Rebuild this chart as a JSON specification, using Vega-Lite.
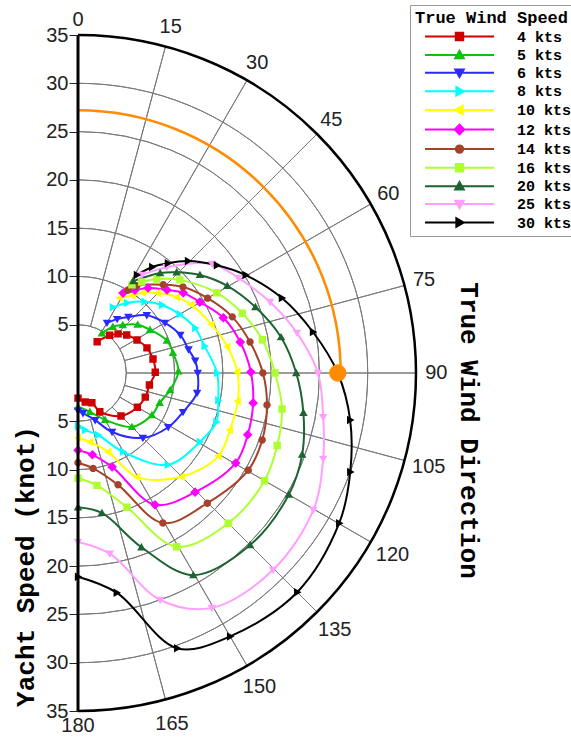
{
  "$schema": "https://vega.github.io/schema/vega-lite/v6.json",
  "width": 338,
  "height": 676,
  "autosize": {"type": "none"},
  "padding": {"left": 78, "top": 35, "right": 155, "bottom": 27},
  "background": "white",
  "config": {"view": {"stroke": null}},
  "datasets": {
    "circles": [{"r": 5}, {"r": 10}, {"r": 15}, {"r": 20}, {"r": 25}, {"r": 30}],
    "spokes": [{"a": 15}, {"a": 30}, {"a": 45}, {"a": 60}, {"a": 75}, {"a": 90}, {"a": 105}, {"a": 120}, {"a": 135}, {"a": 150}, {"a": 165}],
    "angleLabels": [{"a": 0}, {"a": 15}, {"a": 30}, {"a": 45}, {"a": 60}, {"a": 75}, {"a": 90}, {"a": 105}, {"a": 120}, {"a": 135}, {"a": 150}, {"a": 165}, {"a": 180}],
    "maxPoint": [{"angle": 90, "speed": 26.9}],
    "curves": [
      {"tws": "4 kts", "angle": 31.5, "speed": 3.8}, {"tws": "4 kts", "angle": 40, "speed": 5.1}, {"tws": "4 kts", "angle": 45.7, "speed": 5.8}, {"tws": "4 kts", "angle": 52, "speed": 6.4}, {"tws": "4 kts", "angle": 60.8, "speed": 7.0}, {"tws": "4 kts", "angle": 70, "speed": 7.6}, {"tws": "4 kts", "angle": 79.4, "speed": 7.9}, {"tws": "4 kts", "angle": 89.5, "speed": 8.0}, {"tws": "4 kts", "angle": 99.6, "speed": 7.5}, {"tws": "4 kts", "angle": 109.7, "speed": 7.4}, {"tws": "4 kts", "angle": 120, "speed": 7.1}, {"tws": "4 kts", "angle": 135, "speed": 6.3}, {"tws": "4 kts", "angle": 150.6, "speed": 4.6}, {"tws": "4 kts", "angle": 155, "speed": 3.4}, {"tws": "4 kts", "angle": 166, "speed": 3.1}, {"tws": "4 kts", "angle": 180, "speed": 2.6},
      {"tws": "5 kts", "angle": 31, "speed": 4.8}, {"tws": "5 kts", "angle": 37, "speed": 6.0}, {"tws": "5 kts", "angle": 43, "speed": 6.8}, {"tws": "5 kts", "angle": 51, "speed": 7.95}, {"tws": "5 kts", "angle": 59, "speed": 8.7}, {"tws": "5 kts", "angle": 70, "speed": 9.8}, {"tws": "5 kts", "angle": 78, "speed": 10.05}, {"tws": "5 kts", "angle": 89, "speed": 10.4}, {"tws": "5 kts", "angle": 100.5, "speed": 9.7}, {"tws": "5 kts", "angle": 110, "speed": 9.0}, {"tws": "5 kts", "angle": 119.6, "speed": 8.8}, {"tws": "5 kts", "angle": 135, "speed": 7.9}, {"tws": "5 kts", "angle": 150, "speed": 5.6}, {"tws": "5 kts", "angle": 163, "speed": 4.2}, {"tws": "5 kts", "angle": 180, "speed": 3.5},
      {"tws": "6 kts", "angle": 30, "speed": 6.0}, {"tws": "6 kts", "angle": 36, "speed": 6.9}, {"tws": "6 kts", "angle": 42, "speed": 7.8}, {"tws": "6 kts", "angle": 50, "speed": 9.3}, {"tws": "6 kts", "angle": 60, "speed": 10.4}, {"tws": "6 kts", "angle": 69.6, "speed": 11.3}, {"tws": "6 kts", "angle": 78, "speed": 11.7}, {"tws": "6 kts", "angle": 84, "speed": 12.2}, {"tws": "6 kts", "angle": 90, "speed": 12.4}, {"tws": "6 kts", "angle": 99.5, "speed": 12.5}, {"tws": "6 kts", "angle": 110.4, "speed": 11.6}, {"tws": "6 kts", "angle": 121, "speed": 10.9}, {"tws": "6 kts", "angle": 135, "speed": 9.5}, {"tws": "6 kts", "angle": 150, "speed": 7.05}, {"tws": "6 kts", "angle": 160, "speed": 5.2}, {"tws": "6 kts", "angle": 173, "speed": 4.2}, {"tws": "6 kts", "angle": 180, "speed": 3.9},
      {"tws": "8 kts", "angle": 28, "speed": 7.7}, {"tws": "8 kts", "angle": 35, "speed": 8.85}, {"tws": "8 kts", "angle": 43, "speed": 10.1}, {"tws": "8 kts", "angle": 51, "speed": 11.2}, {"tws": "8 kts", "angle": 60, "speed": 12.15}, {"tws": "8 kts", "angle": 69, "speed": 13.0}, {"tws": "8 kts", "angle": 78, "speed": 13.4}, {"tws": "8 kts", "angle": 90, "speed": 14.4}, {"tws": "8 kts", "angle": 101, "speed": 14.8}, {"tws": "8 kts", "angle": 109.5, "speed": 15.2}, {"tws": "8 kts", "angle": 119.5, "speed": 14.5}, {"tws": "8 kts", "angle": 135.6, "speed": 13.3}, {"tws": "8 kts", "angle": 150.3, "speed": 9.4}, {"tws": "8 kts", "angle": 162, "speed": 6.75}, {"tws": "8 kts", "angle": 173, "speed": 5.95}, {"tws": "8 kts", "angle": 180, "speed": 5.5},
      {"tws": "10 kts", "angle": 29, "speed": 8.9}, {"tws": "10 kts", "angle": 35, "speed": 9.8}, {"tws": "10 kts", "angle": 39, "speed": 10.7}, {"tws": "10 kts", "angle": 45, "speed": 11.7}, {"tws": "10 kts", "angle": 52.5, "speed": 12.9}, {"tws": "10 kts", "angle": 59, "speed": 13.7}, {"tws": "10 kts", "angle": 70, "speed": 14.7}, {"tws": "10 kts", "angle": 80, "speed": 15.7}, {"tws": "10 kts", "angle": 89.6, "speed": 16.5}, {"tws": "10 kts", "angle": 100, "speed": 16.8}, {"tws": "10 kts", "angle": 110.6, "speed": 16.8}, {"tws": "10 kts", "angle": 120.6, "speed": 16.9}, {"tws": "10 kts", "angle": 135, "speed": 15.2}, {"tws": "10 kts", "angle": 150.4, "speed": 12.4}, {"tws": "10 kts", "angle": 159, "speed": 8.75}, {"tws": "10 kts", "angle": 170, "speed": 7.25}, {"tws": "10 kts", "angle": 180, "speed": 6.7},
      {"tws": "12 kts", "angle": 29.4, "speed": 9.5}, {"tws": "12 kts", "angle": 34.5, "speed": 10.4}, {"tws": "12 kts", "angle": 39.5, "speed": 11.4}, {"tws": "12 kts", "angle": 47, "speed": 12.6}, {"tws": "12 kts", "angle": 52.7, "speed": 13.7}, {"tws": "12 kts", "angle": 59.8, "speed": 14.6}, {"tws": "12 kts", "angle": 69.2, "speed": 16.1}, {"tws": "12 kts", "angle": 79.2, "speed": 17.1}, {"tws": "12 kts", "angle": 89.7, "speed": 17.9}, {"tws": "12 kts", "angle": 99.7, "speed": 18.4}, {"tws": "12 kts", "angle": 110, "speed": 18.7}, {"tws": "12 kts", "angle": 119.7, "speed": 18.8}, {"tws": "12 kts", "angle": 135.5, "speed": 17.3}, {"tws": "12 kts", "angle": 149.7, "speed": 15.8}, {"tws": "12 kts", "angle": 160, "speed": 10.35}, {"tws": "12 kts", "angle": 170, "speed": 8.6}, {"tws": "12 kts", "angle": 180, "speed": 8.0},
      {"tws": "14 kts", "angle": 31, "speed": 10.0}, {"tws": "14 kts", "angle": 34, "speed": 10.9}, {"tws": "14 kts", "angle": 44, "speed": 12.7}, {"tws": "14 kts", "angle": 50.7, "speed": 14.05}, {"tws": "14 kts", "angle": 60, "speed": 15.5}, {"tws": "14 kts", "angle": 70, "speed": 17.0}, {"tws": "14 kts", "angle": 79.8, "speed": 18.1}, {"tws": "14 kts", "angle": 90, "speed": 19.15}, {"tws": "14 kts", "angle": 99.6, "speed": 19.85}, {"tws": "14 kts", "angle": 110, "speed": 20.3}, {"tws": "14 kts", "angle": 119.7, "speed": 20.3}, {"tws": "14 kts", "angle": 135.2, "speed": 19.0}, {"tws": "14 kts", "angle": 150.5, "speed": 17.85}, {"tws": "14 kts", "angle": 160.3, "speed": 12.3}, {"tws": "14 kts", "angle": 171, "speed": 10.0}, {"tws": "14 kts", "angle": 180, "speed": 9.3},
      {"tws": "16 kts", "angle": 31.5, "speed": 10.7}, {"tws": "16 kts", "angle": 35, "speed": 11.5}, {"tws": "16 kts", "angle": 40, "speed": 12.7}, {"tws": "16 kts", "angle": 47.6, "speed": 14.3}, {"tws": "16 kts", "angle": 60, "speed": 16.6}, {"tws": "16 kts", "angle": 70, "speed": 18.1}, {"tws": "16 kts", "angle": 79.8, "speed": 19.4}, {"tws": "16 kts", "angle": 90, "speed": 20.4}, {"tws": "16 kts", "angle": 100, "speed": 21.45}, {"tws": "16 kts", "angle": 110, "speed": 21.95}, {"tws": "16 kts", "angle": 120, "speed": 22.3}, {"tws": "16 kts", "angle": 135, "speed": 22.0}, {"tws": "16 kts", "angle": 150.4, "speed": 20.7}, {"tws": "16 kts", "angle": 160, "speed": 14.8}, {"tws": "16 kts", "angle": 170.4, "speed": 11.8}, {"tws": "16 kts", "angle": 180, "speed": 10.9},
      {"tws": "20 kts", "angle": 31, "speed": 11.1}, {"tws": "20 kts", "angle": 39.4, "speed": 13.4}, {"tws": "20 kts", "angle": 44.4, "speed": 14.6}, {"tws": "20 kts", "angle": 51.2, "speed": 16.2}, {"tws": "20 kts", "angle": 59.7, "speed": 17.9}, {"tws": "20 kts", "angle": 69.6, "speed": 19.6}, {"tws": "20 kts", "angle": 80, "speed": 21.35}, {"tws": "20 kts", "angle": 90, "speed": 22.6}, {"tws": "20 kts", "angle": 100, "speed": 23.7}, {"tws": "20 kts", "angle": 110, "speed": 24.7}, {"tws": "20 kts", "angle": 120, "speed": 25.2}, {"tws": "20 kts", "angle": 135, "speed": 25.2}, {"tws": "20 kts", "angle": 150.3, "speed": 24.1}, {"tws": "20 kts", "angle": 160, "speed": 19.2}, {"tws": "20 kts", "angle": 170.3, "speed": 14.7}, {"tws": "20 kts", "angle": 180, "speed": 13.9},
      {"tws": "25 kts", "angle": 33, "speed": 12.1}, {"tws": "25 kts", "angle": 40, "speed": 14.3}, {"tws": "25 kts", "angle": 50.9, "speed": 17.9}, {"tws": "25 kts", "angle": 59.3, "speed": 19.3}, {"tws": "25 kts", "angle": 69.7, "speed": 21.2}, {"tws": "25 kts", "angle": 79.6, "speed": 23.05}, {"tws": "25 kts", "angle": 90, "speed": 24.85}, {"tws": "25 kts", "angle": 100.2, "speed": 25.8}, {"tws": "25 kts", "angle": 109.3, "speed": 26.9}, {"tws": "25 kts", "angle": 120.2, "speed": 28.2}, {"tws": "25 kts", "angle": 135.3, "speed": 28.7}, {"tws": "25 kts", "angle": 150.3, "speed": 28.0}, {"tws": "25 kts", "angle": 160.1, "speed": 25.0}, {"tws": "25 kts", "angle": 170, "speed": 19.0}, {"tws": "25 kts", "angle": 180, "speed": 17.5},
      {"tws": "30 kts", "angle": 31, "speed": 11.85}, {"tws": "30 kts", "angle": 35, "speed": 13.4}, {"tws": "30 kts", "angle": 39.3, "speed": 14.7}, {"tws": "30 kts", "angle": 44.5, "speed": 16.25}, {"tws": "30 kts", "angle": 52.2, "speed": 18.2}, {"tws": "30 kts", "angle": 59.7, "speed": 20.1}, {"tws": "30 kts", "angle": 69.8, "speed": 22.5}, {"tws": "30 kts", "angle": 80.1, "speed": 24.7}, {"tws": "30 kts", "angle": 90, "speed": 26.9}, {"tws": "30 kts", "angle": 99.8, "speed": 28.6}, {"tws": "30 kts", "angle": 110, "speed": 30.0}, {"tws": "30 kts", "angle": 119.9, "speed": 31.2}, {"tws": "30 kts", "angle": 135, "speed": 32.1}, {"tws": "30 kts", "angle": 150, "speed": 31.5}, {"tws": "30 kts", "angle": 160.2, "speed": 30.3}, {"tws": "30 kts", "angle": 170, "speed": 23.1}, {"tws": "30 kts", "angle": 180, "speed": 21.1}
    ]
  },
  "layer": [
    {
      "data": {"name": "circles"},
      "mark": {"type": "arc", "filled": false, "stroke": "#7a7a7a", "strokeWidth": 1},
      "encoding": {
        "x": {"datum": 0, "type": "quantitative", "scale": {"domain": [0, 35], "nice": false, "zero": false}},
        "y": {"datum": 0, "type": "quantitative", "scale": {"domain": [-35, 35], "nice": false, "zero": false}},
        "theta": {"datum": 0, "type": "quantitative", "stack": null, "scale": {"type": "linear", "domain": [0, 360], "range": [0, 6.283185307179586], "zero": false}},
        "theta2": {"datum": 180},
        "radius": {"field": "r", "type": "quantitative", "scale": {"type": "linear", "domain": [0, 35], "range": [0, 338], "zero": true}},
        "radius2": {"field": "r"}
      }
    },
    {
      "data": {"name": "spokes"},
      "mark": {"type": "arc", "filled": false, "stroke": "#7a7a7a", "strokeWidth": 1},
      "encoding": {
        "x": {"datum": 0, "type": "quantitative"},
        "y": {"datum": 0, "type": "quantitative"},
        "theta": {"field": "a", "type": "quantitative", "stack": null},
        "theta2": {"field": "a"},
        "radius": {"datum": 35, "type": "quantitative"},
        "radius2": {"datum": 5}
      }
    },
    {
      "data": {"values": [{"r": 35}]},
      "mark": {"type": "arc", "filled": false, "stroke": "#000000", "strokeWidth": 2.5},
      "encoding": {
        "x": {"datum": 0, "type": "quantitative"},
        "y": {"datum": 0, "type": "quantitative"},
        "theta": {"datum": 0, "type": "quantitative", "stack": null},
        "theta2": {"datum": 180},
        "radius": {"field": "r", "type": "quantitative"},
        "radius2": {"field": "r"}
      }
    },
    {
      "data": {"values": [{"r": 27.2}]},
      "mark": {"type": "arc", "filled": false, "stroke": "#ff8c00", "strokeWidth": 2.5},
      "encoding": {
        "x": {"datum": 0, "type": "quantitative"},
        "y": {"datum": 0, "type": "quantitative"},
        "theta": {"datum": 0, "type": "quantitative", "stack": null},
        "theta2": {"datum": 90},
        "radius": {"field": "r", "type": "quantitative"},
        "radius2": {"field": "r"}
      }
    },
    {
      "data": {"name": "curves"},
      "transform": [
        {"calculate": "datum.speed * sin(datum.angle * PI / 180)", "as": "px"},
        {"calculate": "datum.speed * cos(datum.angle * PI / 180)", "as": "py"}
      ],
      "mark": {"type": "line", "interpolate": "catmull-rom", "strokeWidth": 2},
      "encoding": {
        "x": {"field": "px", "type": "quantitative", "axis": {"orient": "top", "labels": false, "ticks": false, "domain": false, "grid": false, "title": "True Wind Direction", "titleAngle": 90, "titleX": 390, "titleY": 395, "titleAlign": "center", "titleBaseline": "middle", "titleFont": "Liberation Mono", "titleFontSize": 26, "titleFontWeight": "bold", "titleColor": "#000000"}},
        "y": {"field": "py", "type": "quantitative", "axis": {"orient": "left", "values": [-35, -30, -25, -20, -15, -10, -5, 5, 10, 15, 20, 25, 30, 35], "labelExpr": "abs(datum.value)", "labelFont": "Liberation Sans", "labelFontSize": 20, "labelColor": "#222222", "labelPadding": 1, "tickSize": 9, "tickColor": "#222222", "tickWidth": 1, "domain": false, "grid": false, "labelOverlap": false, "labelFlush": false, "title": "Yacht Speed (knot)", "titleAngle": 270, "titleX": -53, "titleY": 531, "titleAlign": "center", "titleBaseline": "middle", "titleFont": "Liberation Mono", "titleFontSize": 26, "titleFontWeight": "bold", "titleColor": "#000000"}},
        "color": {"field": "tws", "type": "nominal", "scale": {"domain": ["4 kts", "5 kts", "6 kts", "8 kts", "10 kts", "12 kts", "14 kts", "16 kts", "20 kts", "25 kts", "30 kts"], "range": ["#cc0000", "#10c010", "#2a2aff", "#00ffff", "#ffff00", "#ff00ff", "#a5422a", "#adff2f", "#1e6432", "#ffa0ff", "#000000"]}},
        "order": {"field": "angle", "type": "quantitative"}
      }
    },
    {
      "data": {"name": "curves"},
      "transform": [
        {"calculate": "datum.speed * sin(datum.angle * PI / 180)", "as": "px"},
        {"calculate": "datum.speed * cos(datum.angle * PI / 180)", "as": "py"}
      ],
      "mark": {"type": "point", "filled": true, "size": 55, "strokeWidth": 0, "opacity": 1},
      "encoding": {
        "x": {"field": "px", "type": "quantitative"},
        "y": {"field": "py", "type": "quantitative"},
        "color": {"field": "tws", "type": "nominal", "legend": {"title": "True Wind Speed", "orient": "none", "legendX": 332, "legendY": -30, "padding": 5, "strokeColor": "#999999", "fillColor": "#ffffff", "titleFont": "Liberation Mono", "titleFontSize": 17, "titleFontWeight": "bold", "titleColor": "#000000", "titlePadding": 2, "labelFont": "Liberation Mono", "labelFontSize": 15, "labelFontWeight": "bold", "labelColor": "#000000", "symbolSize": 55, "symbolStrokeWidth": 2, "symbolOffset": 37, "labelOffset": 50, "rowPadding": 1.6,
          "encode": {
            "symbols": {"stroke": {"value": {"signal": "scale('color', datum.value)"}}, "strokeWidth": {"value": 2}, "size": {"value": 55}},
            "entries": {"stroke": {"value": {"signal": "datum.index === 10 ? '#ff8c00' : null"}}, "strokeWidth": {"value": 2}, "width": {"value": 153}, "height": {"value": 20}}
          }}},
        "shape": {"field": "tws", "type": "nominal", "scale": {"domain": ["4 kts", "5 kts", "6 kts", "8 kts", "10 kts", "12 kts", "14 kts", "16 kts", "20 kts", "25 kts", "30 kts"], "range": [
          "M-9.3,0H9.3M-1,-1H1V1H-1Z",
          "M-9.3,0H9.3M0,-1.15L1.15,0.85H-1.15Z",
          "M-9.3,0H9.3M0,1.15L1.15,-0.85H-1.15Z",
          "M-9.3,0H9.3M1.15,0L-0.85,-1.15V1.15Z",
          "M-9.3,0H9.3M-1.15,0L0.85,-1.15V1.15Z",
          "M-9.3,0H9.3M0,-1.3L1.3,0L0,1.3L-1.3,0Z",
          "M-9.3,0H9.3M-1,0A1,1,0,1,0,1,0A1,1,0,1,0,-1,0Z",
          "M-9.3,0H9.3M-1,-1H1V1H-1Z",
          "M-9.3,0H9.3M0,-1.15L1.15,0.85H-1.15Z",
          "M-9.3,0H9.3M0,1.15L1.15,-0.85H-1.15Z",
          "M-9.3,0H9.3M1.15,0L-0.85,-1.15V1.15Z"]},
          "legend": {"title": "True Wind Speed", "orient": "none", "legendX": 332, "legendY": -30, "padding": 5, "strokeColor": "#999999", "fillColor": "#ffffff", "titleFont": "Liberation Mono", "titleFontSize": 17, "titleFontWeight": "bold", "titleColor": "#000000", "titlePadding": 2, "labelFont": "Liberation Mono", "labelFontSize": 15, "labelFontWeight": "bold", "labelColor": "#000000", "symbolSize": 55, "symbolStrokeWidth": 2, "symbolOffset": 37, "labelOffset": 50, "rowPadding": 1.6}}
      }
    },
    {
      "data": {"name": "maxPoint"},
      "transform": [
        {"calculate": "datum.speed * sin(datum.angle * PI / 180)", "as": "px"},
        {"calculate": "datum.speed * cos(datum.angle * PI / 180)", "as": "py"}
      ],
      "mark": {"type": "point", "shape": "circle", "filled": true, "size": 300, "color": "#ff8c00", "opacity": 1},
      "encoding": {
        "x": {"field": "px", "type": "quantitative"},
        "y": {"field": "py", "type": "quantitative"}
      }
    },
    {
      "data": {"values": [{"v": 0}]},
      "mark": {"type": "rule", "color": "#000000", "strokeWidth": 3},
      "encoding": {
        "x": {"datum": 0, "type": "quantitative"},
        "y": {"datum": -35, "type": "quantitative"},
        "y2": {"datum": 35}
      }
    },
    {
      "data": {"name": "angleLabels"},
      "transform": [{"filter": "datum.a == 0 || datum.a == 180"}],
      "mark": {"type": "text", "font": "Liberation Sans", "fontSize": 20, "color": "#222222", "align": "center", "baseline": "middle"},
      "encoding": {
        "x": {"datum": 0, "type": "quantitative"},
        "y": {"datum": 0, "type": "quantitative"},
        "theta": {"field": "a", "type": "quantitative"},
        "radius": {"datum": 36.6, "type": "quantitative"},
        "text": {"field": "a", "type": "quantitative"}
      }
    },
    {
      "data": {"name": "angleLabels"},
      "transform": [{"filter": "datum.a > 0 && datum.a <= 90"}],
      "mark": {"type": "text", "font": "Liberation Sans", "fontSize": 20, "color": "#222222", "align": "center", "baseline": "middle"},
      "encoding": {
        "x": {"datum": 0, "type": "quantitative"},
        "y": {"datum": 0, "type": "quantitative"},
        "theta": {"field": "a", "type": "quantitative"},
        "radius": {"datum": 37.1, "type": "quantitative"},
        "text": {"field": "a", "type": "quantitative"}
      }
    },
    {
      "data": {"name": "angleLabels"},
      "transform": [{"filter": "datum.a > 90 && datum.a < 180"}],
      "mark": {"type": "text", "font": "Liberation Sans", "fontSize": 20, "color": "#222222", "align": "center", "baseline": "middle"},
      "encoding": {
        "x": {"datum": 0, "type": "quantitative"},
        "y": {"datum": 0, "type": "quantitative"},
        "theta": {"field": "a", "type": "quantitative"},
        "radius": {"datum": 37.6, "type": "quantitative"},
        "text": {"field": "a", "type": "quantitative"}
      }
    }
  ]
}
